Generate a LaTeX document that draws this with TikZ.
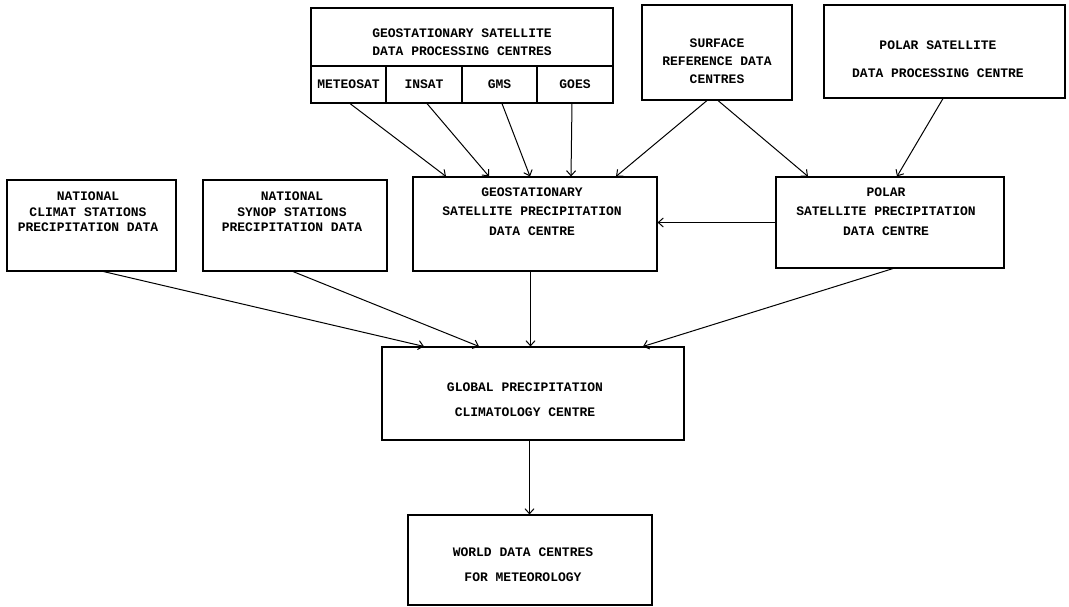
\documentclass[tikz,border=0pt]{standalone}
\usepackage{fontspec}
\setmonofont{Liberation Mono}
\usetikzlibrary{arrows.meta}
\begin{document}
\begin{tikzpicture}[x=1pt,y=-1pt,
  box/.style={draw, line width=1.1pt, inner sep=0pt},
  lbl/.style={align=center, inner sep=0pt, font=\ttfamily\bfseries\fontsize{13}{18}\selectfont},
  arr/.style={line width=1pt, -{Straight Barb[length=5pt,width=9pt]}}]
\fill[white] (0,0) rectangle (1069,607);
\useasboundingbox (0,0) rectangle (1069,607);
% top row
\node[box, minimum width=302pt, minimum height=95pt] (gdpc) at (462,55.5) {};
\node[box, lbl, minimum width=75pt, minimum height=37pt] (meteosat) at (348.5,84.5) {METEOSAT};
\node[box, lbl, minimum width=76pt, minimum height=37pt] (insat) at (424,84.5) {INSAT};
\node[box, lbl, minimum width=75pt, minimum height=37pt] (gms) at (499.5,84.5) {GMS};
\node[box, lbl, minimum width=76pt, minimum height=37pt] (goes) at (575,84.5) {GOES};
\node[lbl] (gdpcT) at (462,42) {GEOSTATIONARY SATELLITE\\DATA PROCESSING CENTRES};
\node[box, minimum width=150pt, minimum height=95pt] (surf) at (717,52.5) {};
\node[lbl] (surfT) at (717,61) {SURFACE\\REFERENCE DATA\\CENTRES};
\node[box, minimum width=241pt, minimum height=93pt] (pdpc) at (944.5,51.5) {};
\node[lbl, font=\ttfamily\bfseries\fontsize{13}{28}\selectfont] (pdpcT) at (938,59) {POLAR SATELLITE\\DATA PROCESSING CENTRE};
% middle row
\node[box, minimum width=169pt, minimum height=91pt] (climat) at (91.5,225.5) {};
\node[lbl, font=\ttfamily\bfseries\fontsize{13}{15.5}\selectfont] (climatT) at (88,212) {NATIONAL\\CLIMAT STATIONS\\PRECIPITATION DATA};
\node[box, minimum width=184pt, minimum height=91pt] (synop) at (295,225.5) {};
\node[lbl, font=\ttfamily\bfseries\fontsize{13}{15.5}\selectfont] (synopT) at (292,212) {NATIONAL\\SYNOP STATIONS\\PRECIPITATION DATA};
\node[box, minimum width=244pt, minimum height=94pt] (gspdc) at (535,224) {};
\node[lbl, font=\ttfamily\bfseries\fontsize{13}{19.5}\selectfont] (gspdcT) at (532,211.5) {GEOSTATIONARY\\SATELLITE PRECIPITATION\\DATA CENTRE};
\node[box, minimum width=228pt, minimum height=91pt] (pspdc) at (890,222.5) {};
\node[lbl, font=\ttfamily\bfseries\fontsize{13}{19.5}\selectfont] (pspdcT) at (886,211.5) {POLAR\\SATELLITE PRECIPITATION\\DATA CENTRE};
% lower
\node[box, minimum width=302pt, minimum height=93pt] (gpcc) at (533,393.5) {};
\node[lbl, font=\ttfamily\bfseries\fontsize{13}{25}\selectfont] (gpccT) at (525,399.5) {GLOBAL PRECIPITATION\\CLIMATOLOGY CENTRE};
\node[box, minimum width=244pt, minimum height=90pt] (world) at (530,560) {};
\node[lbl, font=\ttfamily\bfseries\fontsize{13}{25}\selectfont] (worldT) at (523,564.5) {WORLD DATA CENTRES\\FOR METEOROLOGY};
% connectors
\draw[arr] ([xshift=1.5pt]meteosat.south) -- ([xshift=-89pt]gspdc.north);
\draw[arr] ([xshift=3pt]insat.south) -- ([xshift=-46pt]gspdc.north);
\draw[arr] ([xshift=2.5pt]gms.south) -- ([xshift=-5pt]gspdc.north);
\draw[arr] ([xshift=-3pt]goes.south) -- ([xshift=36pt]gspdc.north);
\draw[arr] ([xshift=-10pt]surf.south) -- ([xshift=81pt]gspdc.north);
\draw[arr] ([xshift=1pt]surf.south) -- ([xshift=-82pt]pspdc.north);
\draw[arr] ([xshift=-1.5pt]pdpc.south) -- ([xshift=7pt]pspdc.north);
\draw[arr] (pspdc.west) -- (pspdc.west -| gspdc.east);
\draw[arr] ([xshift=12pt]climat.south) -- ([xshift=-109pt]gpcc.north);
\draw[arr] ([xshift=-2pt]synop.south) -- ([xshift=-54pt]gpcc.north);
\draw[arr] ([xshift=-4.5pt]gspdc.south) -- ([xshift=-4.5pt]gspdc.south |- gpcc.north);
\draw[arr] ([xshift=3pt]pspdc.south) -- ([xshift=110pt]gpcc.north);
\draw[arr] ([xshift=-3.5pt]gpcc.south) -- ([xshift=-3.5pt]gpcc.south |- world.north);
\end{tikzpicture}
\end{document}
